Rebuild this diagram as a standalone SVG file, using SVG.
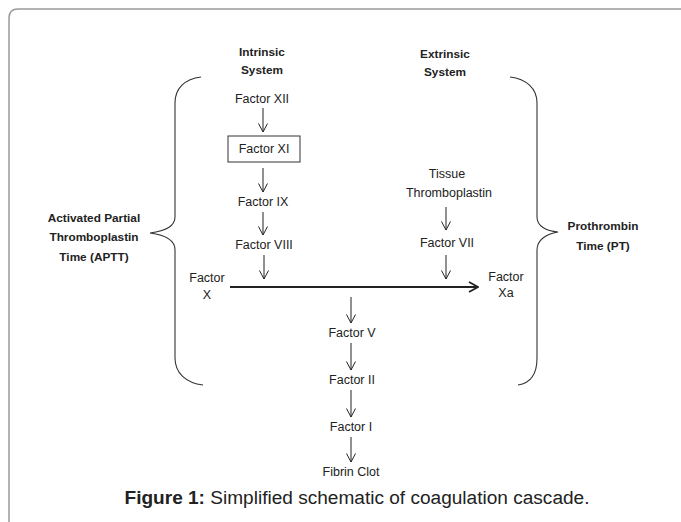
<svg xmlns="http://www.w3.org/2000/svg" width="681" height="522" viewBox="0 0 681 522">
<defs>
<style>
text{font-family:"Liberation Sans",Arial,sans-serif;fill:#222;text-anchor:middle}
.n{font-size:12.5px}
.b{font-size:11.8px;font-weight:bold}
.cap{font-size:18px;fill:#222}
.ln{stroke:#222;stroke-width:1;fill:none}
.thick{stroke:#222;stroke-width:1.8;fill:none}
.brace{stroke:#333;stroke-width:1.1;fill:none}
</style>
<marker id="ah" viewBox="0 0 10 10" refX="9.5" refY="5" markerUnits="userSpaceOnUse" markerWidth="10" markerHeight="10" orient="auto">
<path d="M1,0.5 L9.5,5 L1,9.5" fill="none" stroke="#222" stroke-width="1"/>
</marker>
<marker id="ahb" viewBox="0 0 12 12" refX="11" refY="6" markerUnits="userSpaceOnUse" markerWidth="12" markerHeight="12" orient="auto">
<path d="M2,1 L11,6 L2,11" fill="none" stroke="#222" stroke-width="1.8"/>
</marker>
</defs>
<rect width="681" height="522" fill="#fff"/>
<path d="M9,522 L9,18 Q9,9 18,9 L681,9" fill="none" stroke="#9a9a9a" stroke-width="1.5"/>

<g id="headers">
<text class="b" x="262" y="56">Intrinsic</text>
<text class="b" x="262" y="74">System</text>
<text class="b" x="445" y="58">Extrinsic</text>
<text class="b" x="445" y="76">System</text>
</g>

<g id="braces">
<path class="brace" d="M201,77 C185,79 175,88 175,103 L175,217 C175,226 166,231 150,233 C166,235 175,240 175,250 L175,358 C175,373 186,383 203,385"/>
<path class="brace" d="M510,77 C526,79 537,88 537,103 L537,217 C537,226 546,231 558,232 C546,234 537,240 537,250 L537,358 C537,373 532,383 518,385"/>
</g>

<g id="aptt">
<text class="b" x="94" y="222">Activated Partial</text>
<text class="b" x="94" y="241">Thromboplastin</text>
<text class="b" x="94" y="261">Time (APTT)</text>
</g>
<g id="pt">
<text class="b" x="603" y="230">Prothrombin</text>
<text class="b" x="603" y="250">Time (PT)</text>
</g>

<g id="factor-xii"><text class="n" x="262" y="103">Factor XII</text></g>
<g id="factor-xi">
<rect x="228" y="136" width="72" height="26" fill="none" stroke="#333" stroke-width="1"/>
<text class="n" x="264" y="153">Factor XI</text>
</g>
<g id="factor-ix"><text class="n" x="263" y="206">Factor IX</text></g>
<g id="factor-viii"><text class="n" x="264" y="249">Factor VIII</text></g>
<g id="factor-x">
<text class="n" x="207" y="282">Factor</text>
<text class="n" x="207" y="299">X</text>
</g>
<g id="tissue-thromboplastin">
<text class="n" x="447" y="178">Tissue</text>
<text class="n" x="449" y="197">Thromboplastin</text>
</g>
<g id="factor-vii"><text class="n" x="447" y="247">Factor VII</text></g>
<g id="factor-xa">
<text class="n" x="506" y="281">Factor</text>
<text class="n" x="506" y="297">Xa</text>
</g>
<g id="factor-v"><text class="n" x="352" y="337">Factor V</text></g>
<g id="factor-ii"><text class="n" x="352" y="384">Factor II</text></g>
<g id="factor-i"><text class="n" x="351" y="431">Factor I</text></g>
<g id="fibrin-clot"><text class="n" x="351" y="476">Fibrin Clot</text></g>

<g id="connectors">
<line class="ln" x1="263" y1="108" x2="263" y2="132" marker-end="url(#ah)"/>
<line class="ln" x1="263" y1="168" x2="263" y2="192" marker-end="url(#ah)"/>
<line class="ln" x1="263" y1="212" x2="263" y2="235" marker-end="url(#ah)"/>
<line class="ln" x1="264" y1="255" x2="264" y2="279" marker-end="url(#ah)"/>
<line class="ln" x1="446" y1="207" x2="446" y2="230" marker-end="url(#ah)"/>
<line class="ln" x1="446" y1="255" x2="446" y2="279" marker-end="url(#ah)"/>
<line class="thick" x1="230" y1="287" x2="478" y2="287" marker-end="url(#ahb)"/>
<line class="ln" x1="351" y1="297" x2="351" y2="323" marker-end="url(#ah)"/>
<line class="ln" x1="351" y1="343" x2="351" y2="370" marker-end="url(#ah)"/>
<line class="ln" x1="351" y1="390" x2="351" y2="417" marker-end="url(#ah)"/>
<line class="ln" x1="351" y1="437" x2="351" y2="462" marker-end="url(#ah)"/>
</g>

<g id="caption">
<text class="cap" x="357" y="504" textLength="465" lengthAdjust="spacingAndGlyphs"><tspan font-weight="bold">Figure 1:</tspan> Simplified schematic of coagulation cascade.</text>
</g>
</svg>
